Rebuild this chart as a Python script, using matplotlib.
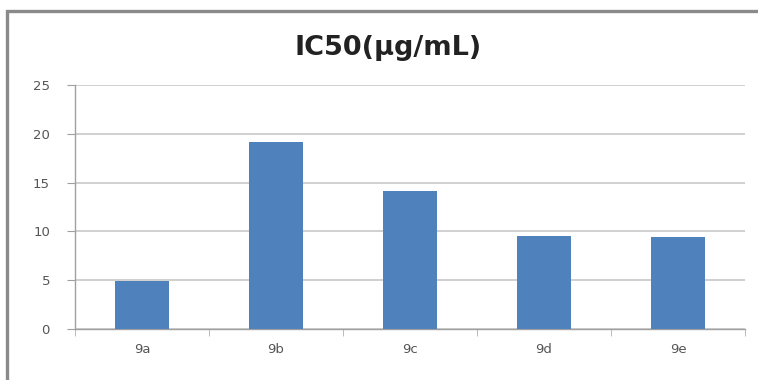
import matplotlib.pyplot as plt
from matplotlib.patches import Rectangle
import numpy as np

compuestos = ['9a', '9b', '9c', '9d', '9e']
ic50 = [4.9, 19.2, 14.1, 9.5, 9.4]
yticks = [0, 5, 10, 15, 20, 25]

W, H = 758, 380
fig = plt.figure(figsize=(W / 100, H / 100), dpi=100)

# marco del grafico (cortado a la derecha y abajo)
fig.patches.append(Rectangle((7 / W, -0.05), 1.1, (H - 11) / H + 0.05,
                             transform=fig.transFigure, fill=False,
                             edgecolor='#8a8a8a', linewidth=2.4))

ax = fig.add_axes([75 / W, (H - 329) / H, (745 - 75) / W, (329 - 85) / H])
x = np.arange(len(compuestos))
ax.bar(x, ic50, width=0.4, color='#4F81BD', zorder=3)

ax.set_xlim(-0.5, len(compuestos) - 0.5)
ax.set_ylim(0, 25)
ax.set_yticks(yticks)
ax.set_xticks(x)
ax.set_xticklabels(compuestos)
ax.set_xticks(np.arange(-0.5, len(compuestos)), minor=True)
ax.grid(axis='y', color='#c8c8c8', linewidth=1.2, zorder=0)

for s in ['top', 'right']:
    ax.spines[s].set_visible(False)
for s in ['left', 'bottom']:
    ax.spines[s].set_color('#a0a0a0')
    ax.spines[s].set_linewidth(1.0)

ax.tick_params(axis='y', colors='#a0a0a0', labelcolor='#555555', labelsize=9.5,
               length=6, pad=12, direction='out')
ax.tick_params(axis='x', which='major', length=0, labelcolor='#555555',
               labelsize=9.5, pad=10)
ax.tick_params(axis='x', which='minor', length=5, colors='#b0b0b0', direction='out')

fig.text(388 / W, 1 - 55 / H, 'IC50(µg/mL)', ha='center', va='baseline',
         fontsize=19.5, fontweight='bold', family='DejaVu Sans', color='#222222')

fig.savefig('out.png', dpi=100)
